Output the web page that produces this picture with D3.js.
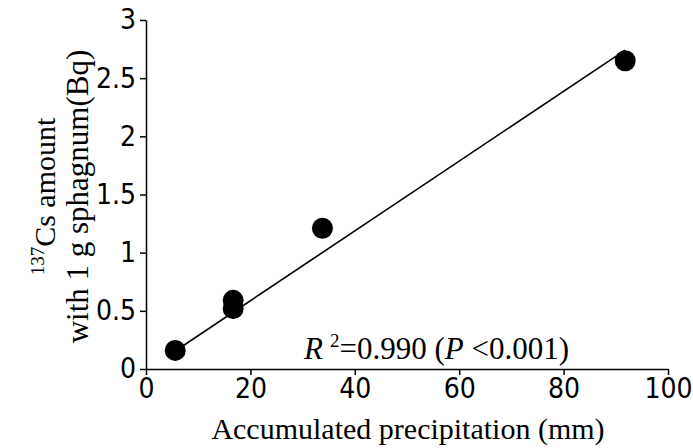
<!DOCTYPE html>
<html>
<head>
<meta charset="utf-8">
<script src="https://cdn.jsdelivr.net/npm/d3@7"></script>
<style>
  html, body { margin: 0; padding: 0; background: #fff; }
  svg { display: block; }
  .tick text { font-family: "Liberation Sans Narrow", "Arial Narrow", "DejaVu Sans Condensed", sans-serif; font-size: 28px; fill: #000; }
  .serif { font-family: "Liberation Serif", "Times New Roman", serif; fill: #000; }
</style>
</head>
<body>
<svg id="chart" width="693" height="448"></svg>
<script>
// Accumulated precipitation (mm) vs 137Cs per gram of sphagnum (Bq)
const precipitation = [5.6, 16.7, 16.7, 33.8, 91.8];
const cesium = [0.16, 0.59, 0.52, 1.21, 2.65];

// Fitted regression line
const fitSlope = 0.0300;
const fitIntercept = -0.013;
const fitRange = [5.6, 91.8];

const xTicks = [0, 20, 40, 60, 80, 100];
const yTicks = [0, 0.5, 1, 1.5, 2, 2.5, 3];

const svg = d3.select("#chart");
const margin = { left: 146, right: 25, top: 20, bottom: 79 };
const W = 693, H = 448;

const x = d3.scaleLinear().domain([0, 100]).range([margin.left, W - margin.right]);
const y = d3.scaleLinear().domain([0, 3]).range([H - margin.bottom, margin.top]);

const fmt = d => String(d);

// Axes
const gx = svg.append("g")
  .attr("transform", `translate(0,${y(0)})`)
  .call(d3.axisBottom(x).tickValues(xTicks).tickFormat(fmt).tickSize(6).tickSizeOuter(0).tickPadding(3));
const gy = svg.append("g")
  .attr("transform", `translate(${x(0)},0)`)
  .call(d3.axisLeft(y).tickValues(yTicks).tickFormat(fmt).tickSize(6).tickSizeOuter(0).tickPadding(4));

[gx, gy].forEach(g => {
  g.select(".domain").attr("stroke", "#000").attr("stroke-width", 1.5);
  g.selectAll(".tick line").attr("stroke", "#000").attr("stroke-width", 1.5);
});

// Regression line
svg.append("line")
  .attr("x1", x(fitRange[0])).attr("y1", y(fitSlope * fitRange[0] + fitIntercept))
  .attr("x2", x(fitRange[1])).attr("y2", y(fitSlope * fitRange[1] + fitIntercept))
  .attr("stroke", "#000").attr("stroke-width", 1.6);

// Data points
svg.append("g").selectAll("circle")
  .data(precipitation.map((p, i) => [p, cesium[i]]))
  .join("circle")
  .attr("cx", d => x(d[0]))
  .attr("cy", d => y(d[1]))
  .attr("r", 10.5)
  .attr("fill", "#000");

// Coefficient of determination
const stat = svg.append("text").attr("class", "serif")
  .attr("x", 304).attr("y", 359).attr("font-size", 31);
stat.append("tspan").attr("font-style", "italic").text("R");
stat.append("tspan").attr("dx", 7).attr("dy", -12).attr("font-size", 19).text("2");
stat.append("tspan").attr("dy", 12).text("=0.990 (");
stat.append("tspan").attr("font-style", "italic").text("P");
stat.append("tspan").text(" <0.001)");

// X axis title
svg.append("text").attr("class", "serif")
  .attr("x", 408).attr("y", 439)
  .attr("text-anchor", "middle").attr("font-size", 30)
  .text("Accumulated precipitation (mm)");

// Y axis title (two lines)
const yt = svg.append("g").attr("transform", `translate(0,${(y(0) + y(3)) / 2 + 2}) rotate(-90)`);
const l1 = yt.append("text").attr("class", "serif").attr("x", 0).attr("y", 55)
  .attr("text-anchor", "middle").attr("font-size", 30);
l1.append("tspan").attr("font-size", 19).attr("dy", -11).text("137");
l1.append("tspan").attr("dy", 11).text("Cs amount");
yt.append("text").attr("class", "serif").attr("x", 0).attr("y", 88)
  .attr("text-anchor", "middle").attr("font-size", 31)
  .text("with 1 g sphagnum(Bq)");
</script>
</body>
</html>
